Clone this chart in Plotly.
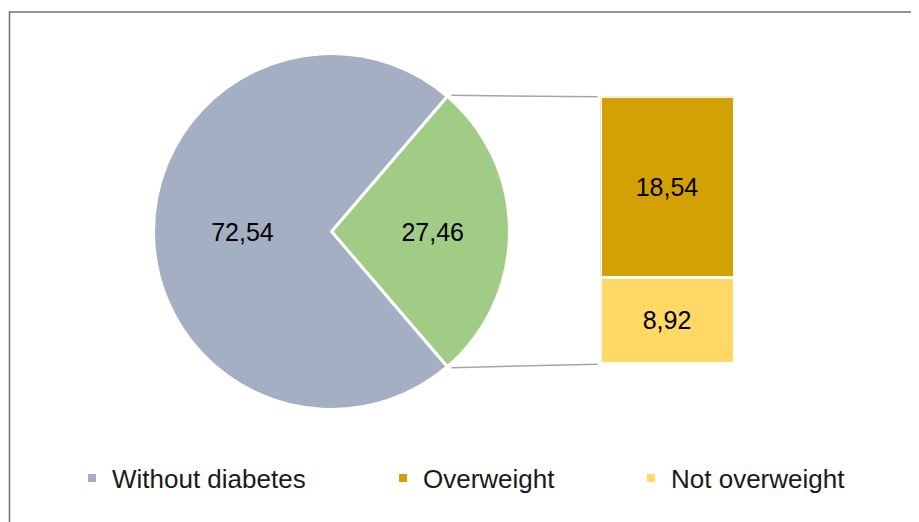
import math
import plotly.graph_objects as go

# ---- data ----
pie_labels = ["With diabetes", "Without diabetes"]
pie_values = [27.46, 72.54]
bar_labels = ["Overweight", "Not overweight"]
bar_values = [18.54, 8.92]
legend_names = ["Without diabetes", "Overweight", "Not overweight"]

# ---- style ----
C_GRAY = "#A4AFC3"
C_GREEN = "#A0CC85"
C_OVER = "#D3A103"
C_NOTOVER = "#FFD866"
legend_colors = [C_GRAY, C_OVER, C_NOTOVER]

OFF = 8  # page body margin
W, H = 919 - OFF, 522 - OFF
FONT = "Liberation Sans, Arial, sans-serif"

# pie geometry (screen pixels)
cx, cy, r = 331.5, 231.5, 178.0
# bar geometry (screen pixels)
bx0, bx1, by_top, by_bot = 600.5, 734.5, 96.8, 364.2


def px(x):
    return (x - OFF) / W


def py(y):
    return 1 - (y - OFF) / H


total = sum(pie_values)
green_deg = 360.0 * pie_values[0] / total
rotation = 90 - green_deg / 2

fig = go.Figure()

fig.add_trace(go.Pie(
    labels=pie_labels, values=pie_values, sort=False,
    direction="clockwise", rotation=rotation,
    marker=dict(colors=[C_GREEN, C_GRAY], line=dict(color="white", width=3)),
    texttemplate="%{value:.2f}", textposition="inside",
    insidetextorientation="horizontal",
    textfont=dict(size=25, color="black", family=FONT),
    domain=dict(x=[px(cx - r), px(cx + r)], y=[py(cy + r), py(cy - r)]),
    showlegend=False, hoverinfo="skip",
))

# stacked bar: bottom first
for name, val, col in [(bar_labels[1], bar_values[1], C_NOTOVER),
                       (bar_labels[0], bar_values[0], C_OVER)]:
    fig.add_trace(go.Bar(
        x=[0], y=[val], name=name, marker=dict(color=col, line=dict(color="white", width=3)),
        texttemplate="%{y:.2f}", textposition="inside", insidetextanchor="middle",
        textangle=0, textfont=dict(size=25, color="black", family=FONT),
        xaxis="x2", yaxis="y2", showlegend=False, hoverinfo="skip",
    ))

# legend entries
legend_ids = ["legend", "legend2", "legend3"]
for name, col, lid in zip(legend_names, legend_colors, legend_ids):
    fig.add_trace(go.Scatter(
        x=[None], y=[None], mode="markers", name=name,
        marker=dict(symbol="square", size=8, color=col),
        xaxis="x2", yaxis="y2", legend=lid, showlegend=True,
    ))

# connector lines from the pie slice edges to the bar corners
a0 = math.radians(rotation)
a1 = math.radians(rotation + green_deg)
p0 = (cx + r * math.sin(a0), cy - r * math.cos(a0))
p1 = (cx + r * math.sin(a1), cy - r * math.cos(a1))
shapes = [
    dict(type="line", xref="paper", yref="paper", x0=px(p0[0] + 4), y0=py(p0[1] - 1),
         x1=px(bx0 - 3), y1=py(by_top), line=dict(color="#A6A6A6", width=1.5)),
    dict(type="line", xref="paper", yref="paper", x0=px(p1[0] + 4), y0=py(p1[1] + 1),
         x1=px(bx0 - 3), y1=py(by_bot), line=dict(color="#A6A6A6", width=1.5)),
    dict(type="rect", xref="paper", yref="paper", x0=px(9.5), y0=-0.05, x1=1.05, y1=py(12),
         line=dict(color="#707070", width=1.5)),
]

leg_common = dict(orientation="h", yanchor="middle", xanchor="left", bgcolor="rgba(0,0,0,0)",
                  font=dict(size=26, color="#1a1a1a", family=FONT), borderwidth=0,
                  itemsizing="trace")
leg_x = [113, 424, 672]  # screen x where legend text starts
legends = {}
for lid, lx in zip(legend_ids, leg_x):
    legends[lid] = dict(leg_common, x=px(lx - 41), y=py(478))

fig.update_layout(
    width=W, height=H, margin=dict(l=0, r=0, t=0, b=0),
    paper_bgcolor="white", plot_bgcolor="white",
    separators=", ",
    barmode="stack", bargap=0,
    xaxis2=dict(domain=[px(bx0), px(bx1)], range=[-0.5, 0.5], visible=False, anchor="y2", fixedrange=True),
    yaxis2=dict(domain=[py(by_bot), py(by_top)], range=[0, sum(bar_values)], visible=False, anchor="x2", fixedrange=True),
    xaxis=dict(visible=False), yaxis=dict(visible=False),
    shapes=shapes,
    font=dict(family=FONT),
    **legends,
)

fig.write_html("out.html")
